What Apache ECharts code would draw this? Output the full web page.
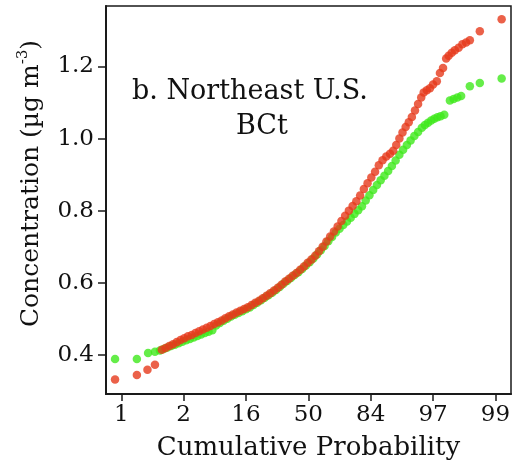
<!DOCTYPE html>
<html>
<head>
<meta charset="utf-8">
<script src="https://cdn.jsdelivr.net/npm/echarts@6/dist/echarts.min.js"></script>
<style>
html,body{margin:0;padding:0;background:#fff;}
#chart{width:519px;height:468px;}
</style>
</head>
<body>
<div id="chart"></div>
<script>
// x positions are normal-probability (z-score) positions; tick labels are cumulative probability (%)
var xTickZ = [-3, -2, -1, 0, 1, 2, 3];
var xTickLabels = ['1', '2', '16', '50', '84', '97', '99'];
var yTicks = [0.4, 0.6, 0.8, 1.0, 1.2];

// red series: [z, concentration]
var redZ = [-3.10,-2.75,-2.58,-2.46,-2.35,-2.29,-2.23,-2.17,-2.11,-2.05,-1.99,-1.93,-1.87,-1.81,-1.75,-1.69,-1.63,-1.57,-1.51,-1.45,-1.39,-1.33,-1.27,-1.21,-1.15,-1.09,-1.03,-0.97,-0.91,-0.85,-0.79,-0.73,-0.67,-0.61,-0.55,-0.49,-0.43,-0.37,-0.31,-0.25,-0.19,-0.13,-0.07,-0.01,0.05,0.11,0.17,0.23,0.29,0.35,0.41,0.47,0.53,0.59,0.65,0.71,0.77,0.83,0.89,0.95,1.01,1.07,1.13,1.19,1.25,1.31,1.36,1.41,1.46,1.51,1.56,1.61,1.66,1.71,1.76,1.81,1.85,1.90,1.95,2.00,2.06,2.11,2.16,2.21,2.25,2.30,2.35,2.41,2.47,2.53,2.59,2.75,3.10];
var redConc = [0.331,0.344,0.358,0.372,0.414,0.419,0.424,0.429,0.435,0.441,0.446,0.451,0.455,0.460,0.465,0.470,0.475,0.480,0.485,0.490,0.495,0.501,0.507,0.512,0.517,0.522,0.527,0.532,0.538,0.544,0.550,0.557,0.564,0.571,0.578,0.586,0.594,0.603,0.611,0.619,0.627,0.636,0.645,0.655,0.664,0.675,0.687,0.700,0.714,0.728,0.742,0.756,0.771,0.786,0.800,0.813,0.826,0.842,0.860,0.876,0.892,0.908,0.926,0.940,0.950,0.958,0.966,0.982,1.000,1.017,1.032,1.045,1.060,1.078,1.096,1.114,1.128,1.134,1.140,1.150,1.159,1.182,1.196,1.222,1.230,1.238,1.245,1.252,1.262,1.267,1.273,1.298,1.331];

// green series: [z, concentration]
var greenZ = [-3.10,-2.75,-2.57,-2.46,-2.38,-2.32,-2.26,-2.20,-2.14,-2.08,-2.02,-1.96,-1.90,-1.84,-1.78,-1.72,-1.66,-1.60,-1.54,-1.48,-1.42,-1.36,-1.30,-1.24,-1.18,-1.12,-1.06,-1.00,-0.94,-0.88,-0.82,-0.76,-0.70,-0.64,-0.58,-0.52,-0.46,-0.40,-0.34,-0.28,-0.22,-0.16,-0.10,-0.04,0.02,0.08,0.14,0.20,0.26,0.32,0.38,0.44,0.50,0.56,0.62,0.68,0.74,0.80,0.86,0.92,0.98,1.04,1.10,1.16,1.22,1.28,1.34,1.40,1.46,1.52,1.58,1.64,1.70,1.76,1.82,1.87,1.92,1.97,2.02,2.07,2.12,2.18,2.27,2.33,2.39,2.45,2.59,2.75,3.10];
var greenConc = [0.388,0.388,0.405,0.408,0.412,0.416,0.420,0.424,0.428,0.432,0.436,0.440,0.444,0.448,0.452,0.456,0.460,0.464,0.468,0.481,0.488,0.494,0.500,0.506,0.511,0.516,0.521,0.526,0.531,0.538,0.544,0.551,0.558,0.565,0.572,0.580,0.588,0.597,0.605,0.613,0.621,0.629,0.638,0.648,0.657,0.667,0.678,0.690,0.702,0.715,0.727,0.739,0.750,0.760,0.770,0.780,0.791,0.801,0.812,0.828,0.843,0.857,0.871,0.884,0.897,0.910,0.924,0.939,0.955,0.969,0.982,0.995,1.007,1.018,1.030,1.038,1.044,1.050,1.055,1.059,1.062,1.066,1.106,1.110,1.114,1.118,1.145,1.154,1.167];

function pairs(xs, ys) { return xs.map(function (x, i) { return [x, ys[i]]; }); }

var FONT = 'DejaVu Serif';
var chart = echarts.init(document.getElementById('chart'), null, { renderer: 'canvas' });
chart.setOption({
  animation: false,
  backgroundColor: '#fff',
  title: [
    { text: 'b. Northeast U.S.', left: 132, top: 78, padding: 0,
      textStyle: { fontFamily: FONT, fontSize: 27, fontWeight: 'normal', color: '#111' } },
    { text: 'BCt', left: 236, top: 113, padding: 0,
      textStyle: { fontFamily: FONT, fontSize: 27, fontWeight: 'normal', color: '#111' } }
  ],
  grid: { left: 106, right: 8, top: 6, bottom: 74, show: true, borderColor: '#1a1a1a', borderWidth: 1.5, containLabel: false },
  xAxis: {
    type: 'value', min: -3.245, max: 3.25,
    name: 'Cumulative Probability', nameLocation: 'middle', nameGap: 41,
    nameTextStyle: { fontFamily: FONT, fontSize: 26, color: '#111' },
    axisLine: { show: true, onZero: false, lineStyle: { color: '#1a1a1a', width: 2 } },
    axisTick: { show: true, length: 7, customValues: xTickZ, lineStyle: { color: '#1a1a1a', width: 1.5 } },
    axisLabel: { customValues: xTickZ, margin: 10, fontFamily: FONT, fontSize: 23, color: '#111',
      formatter: function (v) { var i = xTickZ.indexOf(Math.round(v)); return i >= 0 ? xTickLabels[i] : ''; } },
    splitLine: { show: false }
  },
  yAxis: {
    type: 'value', min: 0.291, max: 1.368,
    name: '{a|Concentration (µg m}{s|-3}{a|)}', nameLocation: 'middle', nameGap: 60, nameRotate: 90,
    nameTextStyle: { fontFamily: FONT, fontSize: 25, color: '#111', padding: [0, 0, 0, 33],
      rich: {
        a: { fontFamily: FONT, fontSize: 25, color: '#111', lineHeight: 30 },
        s: { fontFamily: FONT, fontSize: 15, color: '#111', verticalAlign: 'top', lineHeight: 30, padding: [0, 0, 10, 0] }
      } },
    axisLine: { show: true, onZero: false, lineStyle: { color: '#1a1a1a', width: 2 } },
    axisTick: { show: true, length: 8, customValues: yTicks, lineStyle: { color: '#1a1a1a', width: 1.5 } },
    axisLabel: { customValues: yTicks, margin: 12, fontFamily: FONT, fontSize: 23, color: '#111',
      formatter: function (v) { return v.toFixed(1); } },
    splitLine: { show: false }
  },
  series: [
    { type: 'scatter', name: 'green', data: pairs(greenZ, greenConc), symbol: 'circle', symbolSize: 8.5,
      itemStyle: { color: '#3fe81c' }, z: 2 },
    { type: 'scatter', name: 'red', data: pairs(redZ, redConc), symbol: 'circle', symbolSize: 8.5,
      itemStyle: { color: '#e6391c' }, z: 3 }
  ]
});
</script>
</body>
</html>
